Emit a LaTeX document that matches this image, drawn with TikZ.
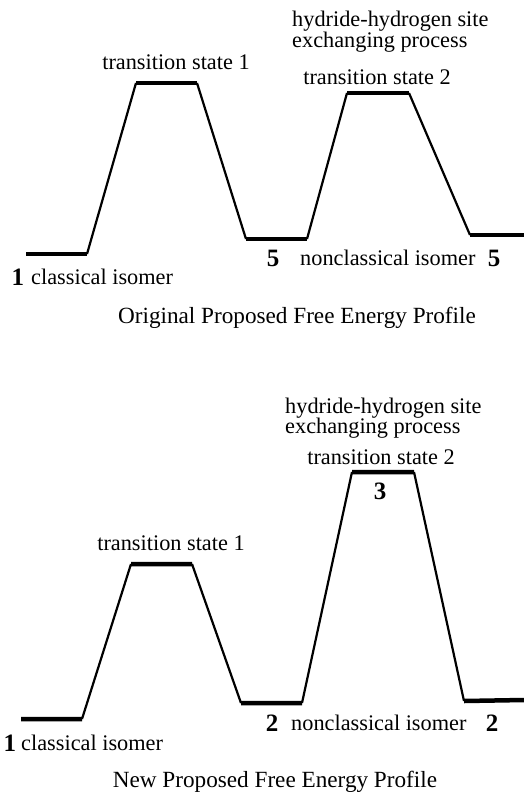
\documentclass[tikz,border=0pt]{standalone}
\usepackage{fontspec}
\setmainfont{Liberation Serif}
\begin{document}
\begin{tikzpicture}[x=1pt,y=-1pt,
  lvl/.style={line width=4.5pt},
  slope/.style={line width=2.2pt, line join=miter},
  lab/.style={inner sep=0pt, font=\fontsize{22.3}{24}\selectfont},
  twoline/.style={inner sep=0pt, align=left, anchor=west, font=\fontsize{22.3}{20.5}\selectfont},
  num/.style={inner sep=0pt, font=\fontsize{25}{26}\selectfont\bfseries},
  captext/.style={inner sep=0pt, font=\fontsize{23.2}{25}\selectfont}]
\useasboundingbox (0,0) rectangle (524,796);
% ---------- top profile ----------
\coordinate (a1) at (26,254);  \coordinate (a2) at (87,254);
\coordinate (a3) at (136,83);  \coordinate (a4) at (197,83);
\coordinate (a5) at (246,239); \coordinate (a6) at (307,239);
\coordinate (a7) at (347,93);  \coordinate (a8) at (409,93);
\coordinate (a9) at (470,235); \coordinate (a10) at (524,235);
\draw[slope] (a2) -- (a3) (a4) -- (a5) (a6) -- (a7) (a8) -- (a9);
\draw[lvl] (a1) -- (a2) (a3) -- (a4) (a5) -- (a6) (a7) -- (a8) (a9) -- (a10);
\node[lab] (t1) at (176,62) {transition state 1};
\node[twoline] (h1) at (292,31.5) {hydride-hydrogen site\\exchanging process};
\node[lab] (t2) at (377,77) {transition state 2};
\node[num] (n5a) at (273,258) {5};
\node[lab,anchor=west] (nc1) at (300,258) {nonclassical isomer};
\node[num] (n5b) at (494,258) {5};
\node[num] (n1a) at (18,277) {1};
\node[lab,anchor=west] (c1) at (31,277) {classical isomer};
\node[captext] (cap1) at (297,318) {Original Proposed Free Energy Profile};
% ---------- bottom profile ----------
\coordinate (b1) at (21,719);  \coordinate (b2) at (82,719);
\coordinate (b3) at (131,564); \coordinate (b4) at (192,564);
\coordinate (b5) at (241,703); \coordinate (b6) at (302,703);
\coordinate (b7) at (352,472); \coordinate (b8) at (414,472);
\coordinate (b9) at (464,701); \coordinate (b10) at (524,700);
\draw[slope] (b2) -- (b3) (b4) -- (b5) (b6) -- (b7) (b8) -- (b9);
\draw[lvl] (b1) -- (b2) (b3) -- (b4) (b5) -- (b6) (b7) -- (b8) (b9) -- (b10);
\node[lab] (t1b) at (171,543) {transition state 1};
\node[twoline] (h2) at (285,418) {hydride-hydrogen site\\exchanging process};
\node[lab] (t2b) at (381,457) {transition state 2};
\node[num] (n3) at (380,491) {3};
\node[num] (n2a) at (272,723) {2};
\node[lab,anchor=west] (nc2) at (291,723) {nonclassical isomer};
\node[num] (n2b) at (492,723) {2};
\node[num] (n1b) at (10,743) {1};
\node[lab,anchor=west] (c2) at (21,743) {classical isomer};
\node[captext] (cap2) at (275,782) {New Proposed Free Energy Profile};
\end{tikzpicture}
\end{document}
